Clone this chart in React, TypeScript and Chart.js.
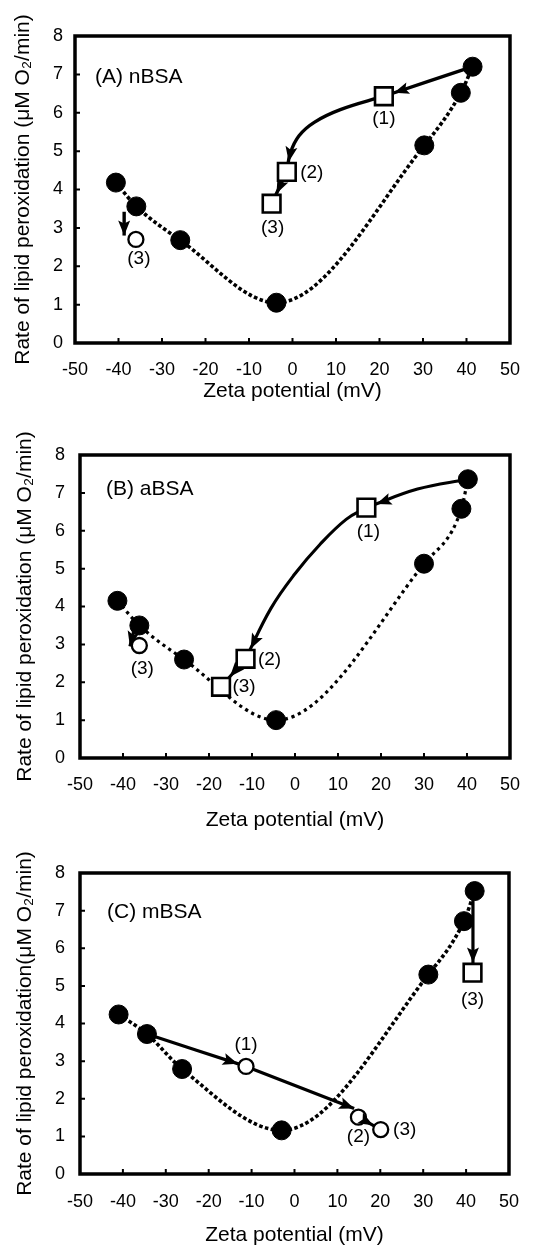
import React, { useEffect, useRef } from 'react';
import { Chart, registerables } from 'chart.js';

Chart.register(...registerables);

const FONT = '"Liberation Sans", Arial, Helvetica, sans-serif';

// ---------------- Data ----------------
// Axis ticks
const X_MIN = -50, X_MAX = 50, X_STEP = 10;
const Y_MIN = 0, Y_MAX = 8, Y_STEP = 1;

// Panel A: nBSA
const A_FILLED = [[-40.6, 4.18], [-35.9, 3.56], [-25.8, 2.68], [-3.7, 1.05], [30.3, 5.15], [38.7, 6.52], [41.4, 7.2]];
const A_SQUARES = [[21.0, 6.43], [-1.3, 4.46], [-4.8, 3.63]];
const A_OPEN = [[-36.0, 2.7]];
const A_ARROW_1 = [[41.4, 7.2], [21.0, 6.43]];
const A_ARROW_2 = [[21.0, 6.43], [11.0, 6.08], [5.0, 5.75], [1.5, 5.4], [-0.5, 4.95], [-1.3, 4.46]];
const A_ARROW_3 = [[-1.3, 4.46], [-4.8, 3.63]];
const A_ARROW_4 = [[-38.7, 3.42], [-38.7, 2.8]];
const A_TEXT = ['(1)', '(2)', '(3)', '(3)'];

// Panel B: aBSA
const B_FILLED = [[-41.3, 4.15], [-36.2, 3.5], [-25.8, 2.6], [-4.4, 1.0], [30.0, 5.13], [38.7, 6.58], [40.2, 7.36]];
const B_SQUARES = [[16.6, 6.61], [-11.5, 2.62], [-17.2, 1.88]];
const B_OPEN = [[-36.2, 2.97]];
const B_ARROW_1 = [[40.2, 7.36], [28.5, 7.1], [16.6, 6.61]];
const B_ARROW_2 = [[16.6, 6.61], [11.9, 6.3], [5.9, 5.65], [-0.1, 4.85], [-5.6, 3.95], [-11.5, 2.62]];
const B_ARROW_3 = [[-11.5, 2.62], [-17.2, 1.88]];
const B_ARROW_4 = [[-37.3, 3.45], [-38.4, 2.95]];
const B_TEXT = ['(1)', '(2)', '(3)', '(3)'];

// Panel C: mBSA
const C_FILLED = [[-41.0, 4.24], [-34.4, 3.72], [-26.2, 2.79], [-3.0, 1.16], [31.2, 5.3], [39.5, 6.72], [42.0, 7.52]];
const C_OPEN = [[-11.3, 2.86], [14.9, 1.51], [20.1, 1.18]];
const C_SQUARES = [[41.5, 5.35]];
const C_ARROW_1 = [[-34.4, 3.72], [-11.3, 2.86]];
const C_ARROW_2 = [[-11.3, 2.86], [13.9, 1.74]];
const C_ARROW_3 = [[14.9, 1.51], [20.1, 1.18]];
const C_ARROW_4 = [[41.6, 7.52], [41.6, 5.35]];
const C_TEXT = ['(1)', '(2)', '(3)', '(3)'];

const X_TITLE = 'Zeta potential (mV)';
const Y_TITLE_AB = 'Rate of lipid peroxidation (\u03bcM O\u2082/min)';
const Y_TITLE_C = 'Rate of lipid peroxidation(\u03bcM O\u2082/min)';

// ---------------- Styling / layout ----------------
const W = 536;
const SQ_R = 12.5;
const SQ_GAP = SQ_R * Math.SQRT1_2 + 1.3;
const OC_R = 7.5;
const OC_GAP = OC_R + 1.2;

type Pt = number[];
const toXY = (a: Pt[]) => a.map(([x, y]) => ({ x, y }));

interface Panel {
  top: number; height: number;
  area: { left: number; right: number; top: number; bottom: number };
  label: string; labelX: number; labelY: number;
  yTitle: string; yTitlePad: number; xTitleOff: number; yTickPad: number; xTickPad: number;
  filled: Pt[]; squares: Pt[]; open: Pt[];
  arrows: { pts: Pt[]; gap: number; shape: string }[];
  notes: { at: Pt; text: string; dx: number; dy: number }[];
  dotW: number; dotDash: number[]; arrowW: number;
}

const PANELS: Panel[] = [
  {
    top: 0, height: 415, area: { left: 75, right: 518, top: 36, bottom: 343 },
    label: '(A) nBSA', labelX: 20, labelY: 41.5,
    yTitle: Y_TITLE_AB, yTitlePad: 10.5, xTitleOff: 24, yTickPad: 12, xTickPad: 16,
    filled: A_FILLED, squares: A_SQUARES, open: A_OPEN,
    arrows: [
      { pts: A_ARROW_1, gap: SQ_GAP, shape: 'sq' },
      { pts: A_ARROW_2, gap: SQ_GAP, shape: 'sq' },
      { pts: A_ARROW_3, gap: SQ_GAP, shape: 'sq' },
      { pts: A_ARROW_4, gap: 0, shape: 'none' },
    ],
    notes: [
      { at: A_SQUARES[0], text: A_TEXT[0], dx: 0, dy: 23 },
      { at: A_SQUARES[1], text: A_TEXT[1], dx: 25, dy: 1 },
      { at: A_SQUARES[2], text: A_TEXT[2], dx: 1, dy: 24 },
      { at: A_OPEN[0], text: A_TEXT[3], dx: 3, dy: 19 },
    ],
    dotW: 3.6, dotDash: [3.6, 2.4], arrowW: 3.4,
  },
  {
    top: 415, height: 415, area: { left: 80, right: 521, top: 40, bottom: 343 },
    label: '(B) aBSA', labelX: 26, labelY: 34,
    yTitle: Y_TITLE_AB, yTitlePad: 12.5, xTitleOff: 10, yTickPad: 15, xTickPad: 16,
    filled: B_FILLED, squares: B_SQUARES, open: B_OPEN,
    arrows: [
      { pts: B_ARROW_1, gap: SQ_GAP, shape: 'sq' },
      { pts: B_ARROW_2, gap: SQ_GAP, shape: 'sq' },
      { pts: B_ARROW_3, gap: SQ_GAP, shape: 'sq' },
      { pts: B_ARROW_4, gap: 0, shape: 'none' },
    ],
    notes: [
      { at: B_SQUARES[0], text: B_TEXT[0], dx: 2, dy: 24 },
      { at: B_SQUARES[1], text: B_TEXT[1], dx: 24, dy: 1 },
      { at: B_SQUARES[2], text: B_TEXT[2], dx: 23, dy: 0 },
      { at: B_OPEN[0], text: B_TEXT[3], dx: 3, dy: 23 },
    ],
    dotW: 3.2, dotDash: [3.2, 3.8], arrowW: 3.1,
  },
  {
    top: 830, height: 415, area: { left: 80, right: 521, top: 43, bottom: 344 },
    label: '(C) mBSA', labelX: 27, labelY: 39,
    yTitle: Y_TITLE_C, yTitlePad: 13, xTitleOff: 10, yTickPad: 15, xTickPad: 17,
    filled: C_FILLED, squares: C_SQUARES, open: C_OPEN,
    arrows: [
      { pts: C_ARROW_1, gap: OC_GAP, shape: 'circ' },
      { pts: C_ARROW_2, gap: 0, shape: 'none' },
      { pts: C_ARROW_3, gap: OC_GAP, shape: 'circ' },
      { pts: C_ARROW_4, gap: SQ_GAP, shape: 'sq' },
    ],
    notes: [
      { at: C_OPEN[0], text: C_TEXT[0], dx: 0, dy: -22 },
      { at: C_OPEN[1], text: C_TEXT[1], dx: 0, dy: 20 },
      { at: C_OPEN[2], text: C_TEXT[2], dx: 24, dy: 0 },
      { at: C_SQUARES[0], text: C_TEXT[3], dx: 0, dy: 27 },
    ],
    dotW: 3.6, dotDash: [3.6, 2.4], arrowW: 3.2,
  },
];

// ---------------- Plugins ----------------
const framePlugin = {
  id: 'frame',
  beforeDatasetsDraw(chart: any) {
    const { ctx, chartArea: a, scales } = chart;
    ctx.save();
    ctx.strokeStyle = '#000';
    ctx.lineWidth = 2;
    ctx.beginPath();
    for (let v = X_MIN; v <= X_MAX; v += X_STEP) {
      const px = scales.x.getPixelForValue(v);
      ctx.moveTo(px, a.bottom);
      ctx.lineTo(px, a.bottom - 5);
    }
    for (let v = Y_MIN; v <= Y_MAX; v += Y_STEP) {
      const py = scales.y.getPixelForValue(v);
      ctx.moveTo(a.left, py);
      ctx.lineTo(a.left + 5, py);
    }
    ctx.stroke();
    ctx.lineWidth = 3.5;
    ctx.strokeRect(a.left, a.top, a.right - a.left, a.bottom - a.top);
    ctx.restore();
  },
};

const arrowPlugin = {
  id: 'arrowheads',
  afterDatasetsDraw(chart: any) {
    const ctx = chart.ctx;
    ctx.save();
    ctx.fillStyle = '#000';
    chart.data.datasets.forEach((ds: any, i: number) => {
      if (!ds.arrowInfo) return;
      const pts = chart.getDatasetMeta(i).data;
      const n = pts.length;
      const end = pts[n - 1];
      const prev = pts[n - 2];
      let dx = end.x - (end.cp1x ?? prev.x);
      let dy = end.y - (end.cp1y ?? prev.y);
      if (Math.hypot(dx, dy) < 1) { dx = end.x - prev.x; dy = end.y - prev.y; }
      const len = Math.hypot(dx, dy);
      const ux = dx / len, uy = dy / len;
      let gap = ds.arrowInfo.gap;
      if (ds.arrowInfo.shape === 'sq') gap = gap / Math.max(Math.abs(ux), Math.abs(uy));
      const tx = end.x - ux * gap, ty = end.y - uy * gap;
      const L = 15, H = 6;
      ctx.beginPath();
      ctx.moveTo(tx, ty);
      ctx.lineTo(tx - ux * L - uy * H, ty - uy * L + ux * H);
      ctx.lineTo(tx - ux * L * 0.8, ty - uy * L * 0.8);
      ctx.lineTo(tx - ux * L + uy * H, ty - uy * L - ux * H);
      ctx.closePath();
      ctx.fill();
    });
    ctx.restore();
  },
};

const textPlugin = {
  id: 'texts',
  afterDraw(chart: any) {
    const p: Panel = chart.options.plugins.texts.panel;
    const { ctx, chartArea: a, scales } = chart;
    ctx.save();
    ctx.fillStyle = '#000';
    ctx.textBaseline = 'middle';
    ctx.textAlign = 'left';
    ctx.font = `21px ${FONT}`;
    ctx.fillText(p.label, a.left + p.labelX, a.top + p.labelY);
    ctx.textAlign = 'center';
    ctx.font = `19px ${FONT}`;
    p.notes.forEach((nt) => {
      const x = scales.x.getPixelForValue(nt.at[0]) + nt.dx;
      const y = scales.y.getPixelForValue(nt.at[1]) + nt.dy;
      ctx.fillText(nt.text, x, y);
    });
    ctx.restore();
  },
};

function buildConfig(p: Panel): any {
  const H = p.height;
  const datasets: any[] = [];
  datasets.push({
    data: toXY(p.filled), showLine: true, borderColor: '#000', borderWidth: p.dotW,
    borderDash: p.dotDash, cubicInterpolationMode: 'monotone', pointRadius: 0, order: 3,
    borderCapStyle: 'butt',
  });
  p.arrows.forEach((ar) => {
    datasets.push({
      data: toXY(ar.pts), showLine: true, borderColor: '#000', borderWidth: p.arrowW,
      tension: 0.4, pointRadius: 0, order: 2, arrowInfo: { gap: ar.gap, shape: ar.shape },
    });
  });
  datasets.push({
    data: toXY(p.filled), pointStyle: 'circle', pointRadius: 9.5, pointBackgroundColor: '#000',
    pointBorderColor: '#000', pointBorderWidth: 1, backgroundColor: '#000', borderColor: '#000', order: 0,
  });
  datasets.push({
    data: toXY(p.squares), pointStyle: 'rect', pointRadius: SQ_R, pointBackgroundColor: '#fff',
    pointBorderColor: '#000', pointBorderWidth: 2.6, backgroundColor: '#fff', borderColor: '#000', order: 0,
  });
  datasets.push({
    data: toXY(p.open), pointStyle: 'circle', pointRadius: OC_R, pointBackgroundColor: '#fff',
    pointBorderColor: '#000', pointBorderWidth: 2.3, backgroundColor: '#fff', borderColor: '#000', order: 0,
  });
  return {
    type: 'scatter',
    data: { datasets },
    options: {
      responsive: false,
      animation: false,
      events: [],
      layout: { padding: { left: 0, top: p.area.top, right: W - p.area.right, bottom: 0 } },
      plugins: { legend: { display: false }, tooltip: { enabled: false }, texts: { panel: p } },
      scales: {
        x: {
          type: 'linear', min: X_MIN, max: X_MAX,
          ticks: { stepSize: X_STEP, color: '#000', font: { size: 18, family: FONT }, padding: p.xTickPad, maxRotation: 0, autoSkip: false },
          grid: { display: false, drawTicks: false },
          border: { display: false },
          title: { display: true, text: X_TITLE, color: '#000', font: { size: 21, family: FONT }, padding: { top: 0, bottom: p.xTitleOff - 12.6 } },
          afterFit: (s: any) => { s.height = H - p.area.bottom; },
        },
        y: {
          type: 'linear', min: Y_MIN, max: Y_MAX,
          ticks: { stepSize: Y_STEP, color: '#000', font: { size: 18, family: FONT }, padding: p.yTickPad },
          grid: { display: false, drawTicks: false },
          border: { display: false },
          title: { display: true, text: p.yTitle, color: '#000', font: { size: 21, family: FONT }, padding: { top: p.yTitlePad, bottom: 0 } },
          afterFit: (s: any) => { s.width = p.area.left; },
        },
      },
    },
    plugins: [framePlugin, arrowPlugin, textPlugin],
  };
}

function PanelChart({ p }: { p: Panel }) {
  const ref = useRef<HTMLCanvasElement>(null);
  useEffect(() => {
    const chart = new Chart(ref.current as HTMLCanvasElement, buildConfig(p));
    return () => chart.destroy();
  }, [p]);
  return (
    <canvas
      ref={ref}
      width={W}
      height={p.height}
      style={{ position: 'absolute', left: 0, top: p.top, width: W, height: p.height }}
    />
  );
}

export default function App() {
  return (
    <div style={{ position: 'absolute', left: 0, top: 0, width: W, height: 1245, background: '#fff', overflow: 'hidden' }}>
      {PANELS.map((p, i) => (
        <PanelChart key={i} p={p} />
      ))}
    </div>
  );
}
